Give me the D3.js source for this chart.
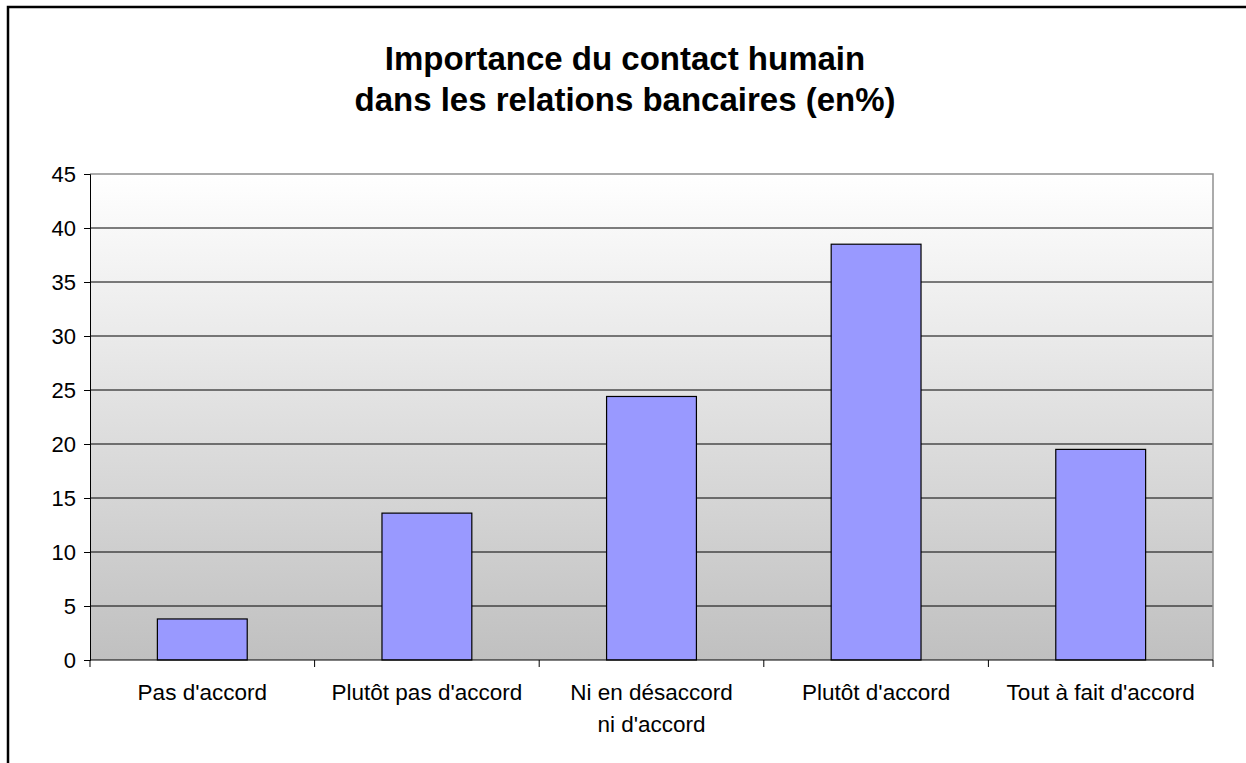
<!DOCTYPE html>
<html>
<head>
<meta charset="utf-8">
<script src="https://cdn.jsdelivr.net/npm/d3@7"></script>
<style>
  body { margin: 0; background: #fff; }
  text { font-family: "Liberation Sans", Arial, sans-serif; }
</style>
</head>
<body>
<script>
const titleLines = ["Importance du contact humain", "dans les relations bancaires (en%)"];
const categories = [
  ["Pas d'accord"],
  ["Plutôt pas d'accord"],
  ["Ni en désaccord", "ni d'accord"],
  ["Plutôt d'accord"],
  ["Tout à fait d'accord"]
];
const values = [3.8, 13.6, 24.4, 38.5, 19.5];
const yTicks = [0, 5, 10, 15, 20, 25, 30, 35, 40, 45];

const W = 1246, H = 763;
const margin = { top: 174, right: 33, bottom: 103, left: 90 };
const width = W - margin.left - margin.right;
const height = H - margin.top - margin.bottom;

const root = d3.select("body").append("svg")
  .attr("width", W).attr("height", H);

// outer frame
root.append("rect")
  .attr("x", 8).attr("y", 7)
  .attr("width", W + 20).attr("height", H + 20)
  .attr("fill", "none").attr("stroke", "#000").attr("stroke-width", 2.5);

// title
root.append("text")
  .attr("x", 625).attr("y", 70)
  .attr("text-anchor", "middle")
  .style("font-size", "33px").style("font-weight", "bold")
  .selectAll("tspan").data(titleLines).enter().append("tspan")
  .attr("x", 625).attr("dy", (d, i) => i === 0 ? 0 : 41)
  .text(d => d);

const defs = root.append("defs");
const grad = defs.append("linearGradient").attr("id", "bg")
  .attr("x1", 0).attr("y1", 0).attr("x2", 0).attr("y2", 1);
grad.append("stop").attr("offset", "0%").attr("stop-color", "#ffffff");
grad.append("stop").attr("offset", "100%").attr("stop-color", "#c0c0c0");

const svg = root.append("g")
  .attr("transform", "translate(" + margin.left + "," + margin.top + ")");

const x = d3.scaleBand()
  .domain(d3.range(categories.length))
  .range([0, width])
  .paddingInner(0.6).paddingOuter(0.3);
const y = d3.scaleLinear().domain([0, 45]).range([height, 0]);

svg.append("rect")
  .attr("width", width).attr("height", height)
  .attr("fill", "url(#bg)");

// gridlines
svg.append("g")
  .selectAll("line").data(yTicks.filter(t => t > 0 && t < 45)).enter()
  .append("line")
  .attr("x1", 0).attr("x2", width)
  .attr("y1", d => y(d)).attr("y2", d => y(d))
  .attr("stroke", "#000").attr("stroke-width", 1);

// plot border top/right
svg.append("path")
  .attr("d", "M0," + y(45) + "H" + width + "V" + height)
  .attr("fill", "none").attr("stroke", "#909090").attr("stroke-width", 1.5);

// bars
svg.selectAll(".bar").data(values).enter().append("rect")
  .attr("class", "bar")
  .attr("x", (d, i) => x(i))
  .attr("y", d => y(d))
  .attr("width", x.bandwidth())
  .attr("height", d => height - y(d))
  .attr("fill", "#9999ff")
  .attr("stroke", "#000").attr("stroke-width", 1.2);

// y axis
const yAxis = svg.append("g")
  .call(d3.axisLeft(y).tickValues(yTicks).tickSize(6).tickPadding(8));
yAxis.select(".domain").attr("stroke", "#000");
yAxis.selectAll("text").style("font-size", "22px").attr("fill", "#000")
  .style("font-family", "'Liberation Sans', Arial, sans-serif");

// x axis with ticks at band boundaries
const xAxis = svg.append("g").attr("transform", "translate(0," + height + ")");
xAxis.append("line").attr("x1", 0).attr("x2", width)
  .attr("stroke", "#000").attr("stroke-width", 1);
const bounds = d3.range(categories.length + 1)
  .map(i => i === 0 ? 0 : i === categories.length ? width : x(i) - x.step() * x.paddingInner() / 2);
xAxis.selectAll(".tk").data(bounds).enter().append("line")
  .attr("x1", d => d).attr("x2", d => d)
  .attr("y1", 0).attr("y2", 7)
  .attr("stroke", "#000");
xAxis.selectAll(".lbl").data(categories).enter().append("text")
  .attr("text-anchor", "middle")
  .attr("transform", (d, i) => "translate(" + (x(i) + x.bandwidth() / 2) + ",40)")
  .style("font-size", "22.5px")
  .selectAll("tspan").data(d => d).enter().append("tspan")
  .attr("x", 0).attr("dy", (d, i) => i === 0 ? 0 : 32)
  .text(d => d);
</script>
</body>
</html>
